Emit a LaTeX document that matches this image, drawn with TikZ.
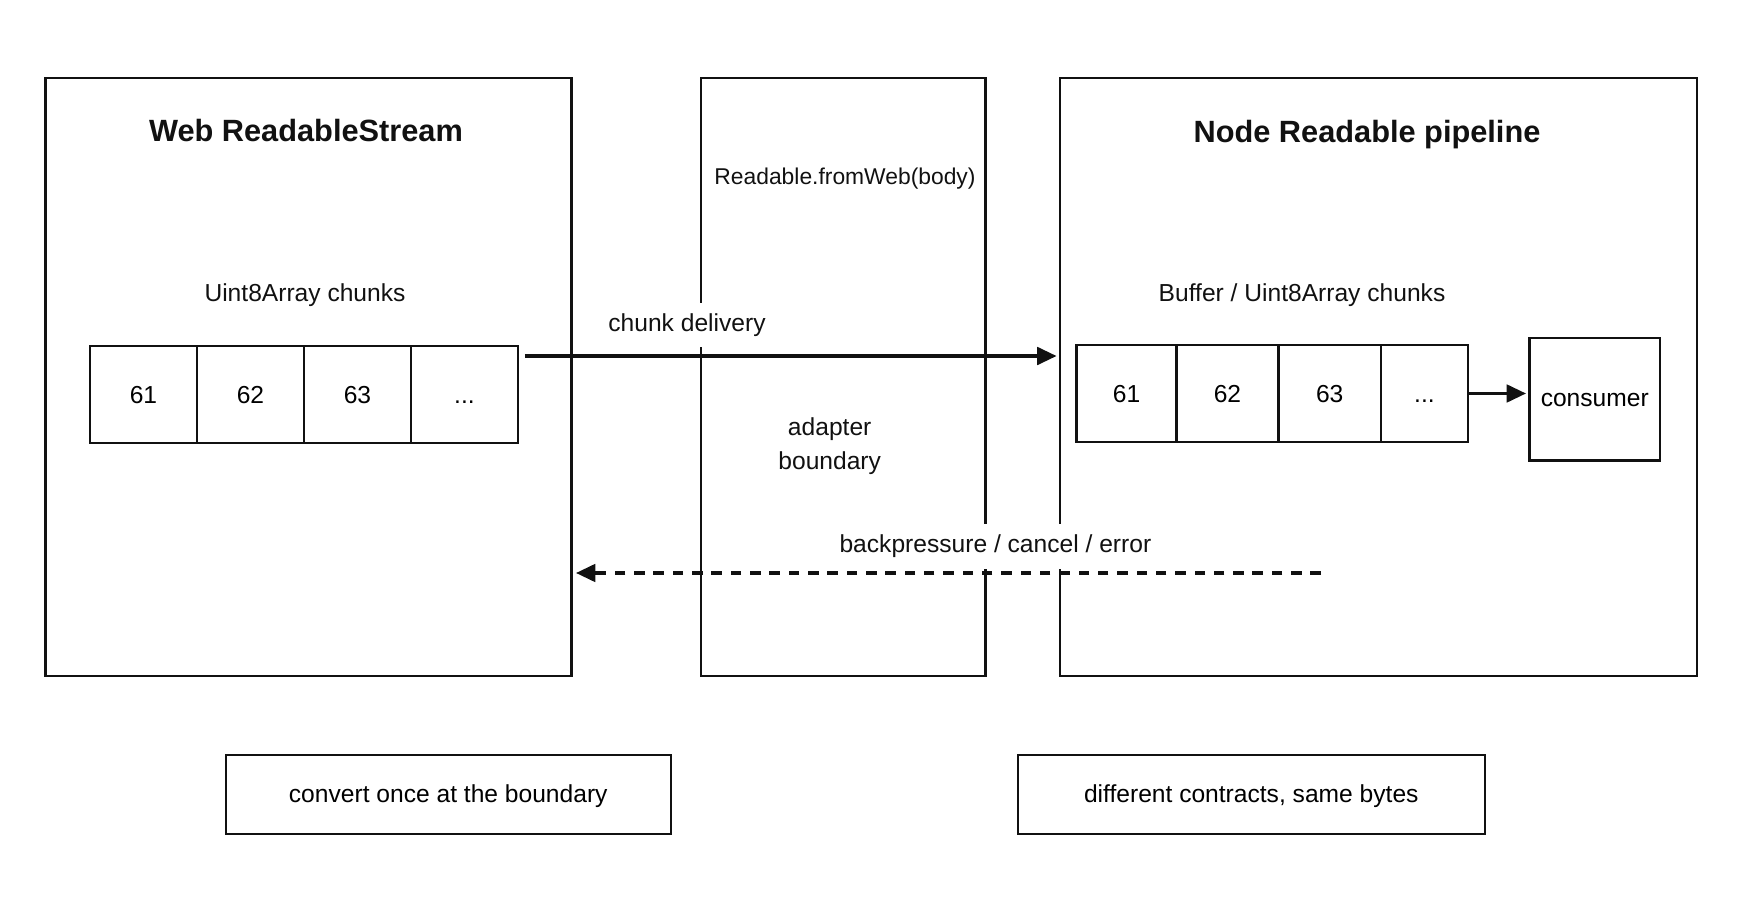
\documentclass[tikz,border=0pt]{standalone}
\usepackage{fontspec}
\setmainfont{Liberation Sans}
\usepackage{tikz}
\usetikzlibrary{arrows.meta, positioning, calc}
\definecolor{Ink}{RGB}{17,17,17}
\tikzset{
  panel/.style={
    rectangle, draw=Ink, line width=1.4pt,
    inner sep=0pt, outer sep=0pt,
    minimum height=11.97cm
  },
  cell/.style={
    rectangle, draw=Ink, line width=1.3pt,
    inner sep=0pt, outer sep=0pt,
    minimum height=1.94cm, font=\fontsize{14pt}{17pt}\selectfont,
    text height=10pt, text depth=0pt
  },
  note/.style={
    rectangle, draw=Ink, line width=1.3pt,
    inner sep=0pt, outer sep=0pt,
    minimum height=1.58cm, font=\fontsize{14pt}{17pt}\selectfont,
    text height=9pt, text depth=0pt
  },
  ttl/.style={font=\fontsize{17.5pt}{21pt}\selectfont\bfseries, text=Ink},
  txt/.style={font=\fontsize{14pt}{19.5pt}\selectfont, text=Ink, align=center},
  lbl/.style={font=\fontsize{14pt}{17pt}\selectfont, text=Ink,
    fill=white, inner sep=6pt},
  arr/.style={-{Triangle[length=11pt, width=10pt]}, draw=Ink, line width=1.8pt},
  darr/.style={-{Triangle[length=11pt, width=10pt]}, draw=Ink, line width=1.8pt,
    dash pattern=on 6pt off 5pt}
}
\begin{document}
\begin{tikzpicture}[x=0.02cm, y=-0.02cm]
  \useasboundingbox (0,0) rectangle (1744,901);

  % Three panels
  \node[panel, minimum width=10.52cm] (web) at (308.65,377.05) {};
  \node[panel, minimum width=5.69cm]  (adp) at (843.05,377.05) {};
  \node[panel, minimum width=12.74cm] (nrd) at (1378.5,377.05) {};

  % Titles and captions
  \node[ttl] (webT) at (306,131) {Web ReadableStream};
  \node[ttl] (nrdT) at (1367,135) {Node Readable pipeline};
  \node[txt, font=\fontsize{13pt}{17pt}\selectfont] (adpT) at (845,179) {Readable.fromWeb(body)};
  \node[txt] (webC) at (305,295.5) {Uint8Array chunks};
  \node[txt] (nrdC) at (1302,295.5) {Buffer / Uint8Array chunks};
  \node[txt] (adpB) at (829.7,446) {adapter\\boundary};

  % Web chunk row
  \node[cell, minimum width=2.14cm] (wc1) at (143.5,394.5) {61};
  \node[cell, minimum width=2.14cm, right=0pt of wc1] (wc2) {62};
  \node[cell, minimum width=2.14cm, right=0pt of wc2] (wc3) {63};
  \node[cell, minimum width=2.14cm, right=0pt of wc3] (wc4) {...};

  % Node chunk row
  \node[cell, minimum width=2.00cm] (rc1) at (1126.5,393.5) {61};
  \node[cell, minimum width=2.04cm, right=0pt of rc1] (rc2) {62};
  \node[cell, minimum width=2.05cm, right=0pt of rc2] (rc3) {63};
  \node[cell, minimum width=1.74cm, right=0pt of rc3] (rc4) {...};
  \node[cell, minimum width=2.61cm, minimum height=2.45cm, text height=8pt]
                                    (cons) at (1594.75,399.25) {consumer};

  % Bottom notes
  \node[note, minimum width=8.90cm] (noteL) at (448.25,794.7) {convert once at the boundary};
  \node[note, minimum width=9.34cm] (noteR) at (1251.25,794.7) {different contracts, same bytes};

  % Flows
  \coordinate (dlvS) at ($(wc4.north east)+(7,10)$);
  \draw[arr, shorten >=2pt] (dlvS) -- (dlvS -| nrd.west);
  \draw[arr, shorten >=2pt] (rc4.east) -- (rc4.east -| cons.west);
  \coordinate (bpS) at (1321,573);
  \draw[darr, shorten >=2.5pt] (bpS) -- (bpS -| web.east);

  % Flow labels
  \node[lbl] (dlvL) at (687,325) {chunk delivery};
  \node[lbl] (bpL) at (995.4,546.5) {backpressure / cancel / error};
\end{tikzpicture}
\end{document}
